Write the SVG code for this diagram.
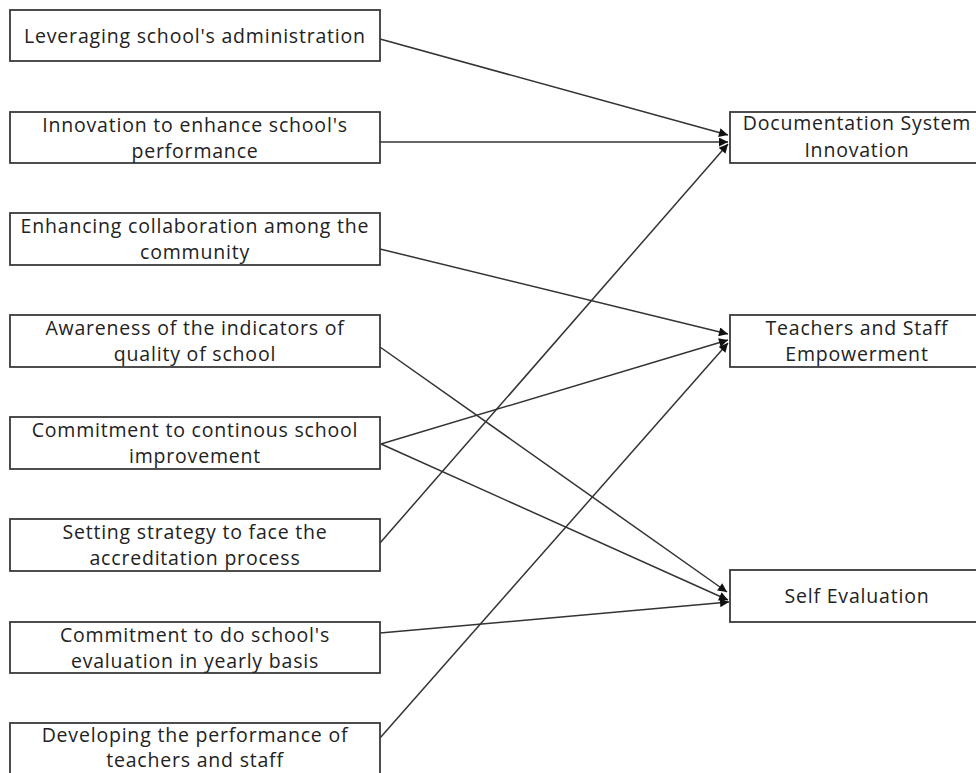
<svg xmlns="http://www.w3.org/2000/svg" width="976" height="773" viewBox="0 0 976 773">
<defs>
<style>
.box{fill:#fff;stroke:#3a3a3a;stroke-width:1.8}
.t{font-family:"Open Sans","Liberation Sans",sans-serif;font-size:19.5px;letter-spacing:0.8px;fill:#222;text-anchor:middle}
.c line{stroke:#333;stroke-width:1.5;fill:none;marker-end:url(#ah)}
</style>
<marker id="ah" viewBox="0 0 10 10" refX="10" refY="5" markerWidth="11" markerHeight="9" markerUnits="userSpaceOnUse" orient="auto">
<path d="M0,0 L10,5 L0,10 Z" fill="#111"/>
</marker>
</defs>
<rect width="976" height="773" fill="#fff"/>
<g id="connectors" class="c">
<line x1="380" y1="39" x2="728" y2="135"/>
<line x1="380" y1="142" x2="728" y2="142"/>
<line x1="380" y1="249" x2="728" y2="334"/>
<line x1="380" y1="347" x2="727" y2="592"/>
<line x1="381" y1="444" x2="728" y2="340"/>
<line x1="381" y1="444" x2="728" y2="600"/>
<line x1="380" y1="543" x2="728" y2="144"/>
<line x1="380" y1="633" x2="729" y2="602"/>
<line x1="380" y1="738" x2="728" y2="343"/>
</g>
<g id="n1"><rect class="box" x="10" y="10" width="370" height="51"/><text class="t" x="195" y="43">Leveraging school's administration</text></g>
<g id="n2"><rect class="box" x="10" y="112" width="370" height="51"/><text class="t" x="195" y="132">Innovation to enhance school's</text><text class="t" x="195" y="158">performance</text></g>
<g id="n3"><rect class="box" x="10" y="213" width="370" height="52"/><text class="t" x="195" y="233">Enhancing collaboration among the</text><text class="t" x="195" y="259">community</text></g>
<g id="n4"><rect class="box" x="10" y="315" width="370" height="52"/><text class="t" x="195" y="335">Awareness of the indicators of</text><text class="t" x="195" y="361">quality of school</text></g>
<g id="n5"><rect class="box" x="10" y="417" width="370" height="52"/><text class="t" x="195" y="437">Commitment to continous school</text><text class="t" x="195" y="463">improvement</text></g>
<g id="n6"><rect class="box" x="10" y="519" width="370" height="52"/><text class="t" x="195" y="539">Setting strategy to face the</text><text class="t" x="195" y="565">accreditation process</text></g>
<g id="n7"><rect class="box" x="10" y="622" width="370" height="51"/><text class="t" x="195" y="642">Commitment to do school's</text><text class="t" x="195" y="668">evaluation in yearly basis</text></g>
<g id="n8"><rect class="box" x="10" y="723" width="370" height="60"/><text class="t" x="195" y="742">Developing the performance of</text><text class="t" x="195" y="767">teachers and staff</text></g>
<g id="r1"><rect class="box" x="730" y="112" width="256" height="51"/><text class="t" x="857" y="130">Documentation System</text><text class="t" x="857" y="157">Innovation</text></g>
<g id="r2"><rect class="box" x="730" y="315" width="256" height="52"/><text class="t" x="857" y="335">Teachers and Staff</text><text class="t" x="857" y="361">Empowerment</text></g>
<g id="r3"><rect class="box" x="730" y="570" width="256" height="52"/><text class="t" x="857" y="603">Self Evaluation</text></g>
</svg>
